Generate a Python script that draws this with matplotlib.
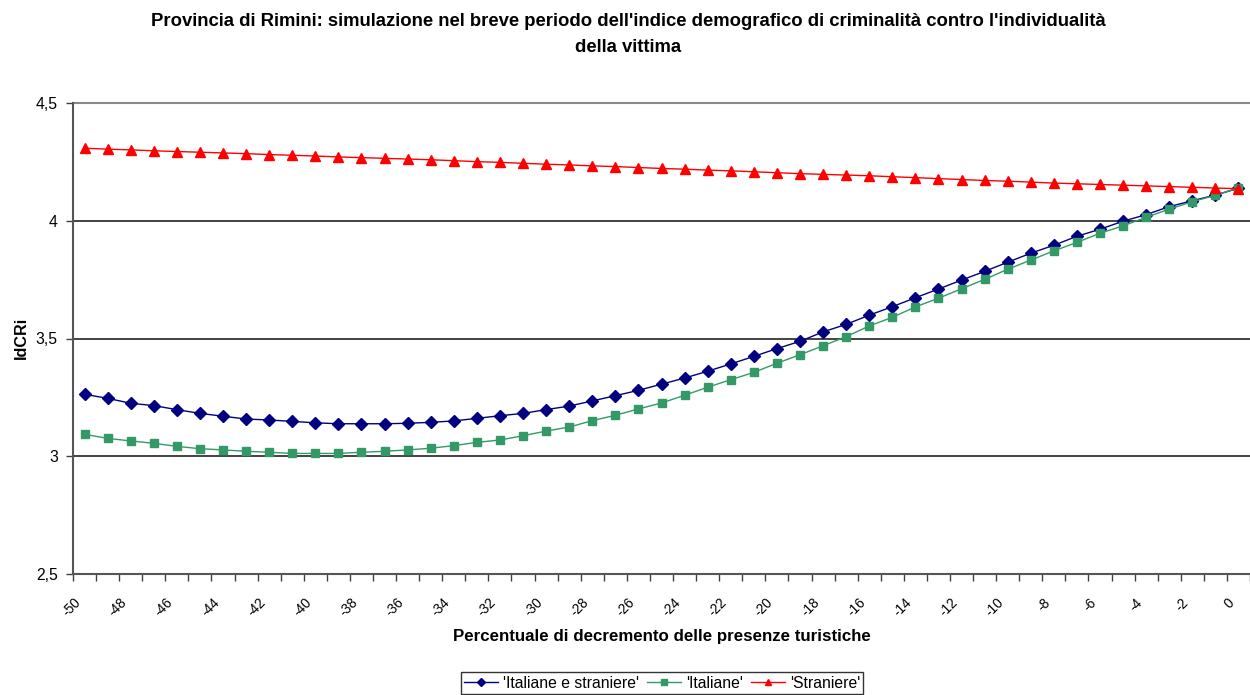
import matplotlib
matplotlib.use("Agg")
import matplotlib.pyplot as plt
from matplotlib.ticker import FixedLocator, FuncFormatter
from matplotlib.transforms import ScaledTranslation

plt.rcParams['font.family'] = ['Liberation Sans', 'DejaVu Sans']

x_values = list(range(-50, 1))

italiane_e_straniere = [
    3.263, 3.246, 3.225, 3.215, 3.198, 3.182, 3.170, 3.158, 3.154, 3.148,
    3.142, 3.138, 3.138, 3.138, 3.140, 3.144, 3.150, 3.161, 3.172, 3.182,
    3.198, 3.213, 3.235, 3.257, 3.280, 3.306, 3.332, 3.361, 3.392, 3.424,
    3.457, 3.488, 3.528, 3.560, 3.599, 3.635, 3.673, 3.710, 3.748, 3.785,
    3.824, 3.862, 3.896, 3.934, 3.964, 3.998, 4.026, 4.060, 4.085, 4.109,
    4.138,
]

italiane = [
    3.093, 3.076, 3.065, 3.055, 3.042, 3.032, 3.027, 3.021, 3.017, 3.012,
    3.012, 3.012, 3.017, 3.021, 3.027, 3.034, 3.045, 3.059, 3.069, 3.087,
    3.107, 3.124, 3.151, 3.174, 3.201, 3.226, 3.259, 3.293, 3.325, 3.356,
    3.395, 3.431, 3.469, 3.508, 3.553, 3.590, 3.634, 3.671, 3.711, 3.751,
    3.794, 3.833, 3.872, 3.908, 3.947, 3.978, 4.015, 4.049, 4.081, 4.108,
    4.140,
]

straniere = [
    4.308, 4.304, 4.301, 4.297, 4.294, 4.291, 4.288, 4.285, 4.281, 4.278,
    4.275, 4.271, 4.268, 4.265, 4.262, 4.259, 4.255, 4.251, 4.248, 4.244,
    4.240, 4.237, 4.233, 4.230, 4.226, 4.222, 4.219, 4.215, 4.212, 4.208,
    4.204, 4.200, 4.197, 4.194, 4.191, 4.187, 4.183, 4.179, 4.175, 4.171,
    4.168, 4.164, 4.160, 4.157, 4.154, 4.151, 4.148, 4.145, 4.142, 4.139,
    4.136,
]

series_labels = ["'Italiane e straniere'", "'Italiane'", "'Straniere'"]
x_tick_labels = [str(v) for v in range(-50, 1, 2)]
y_ticks = [2.5, 3.0, 3.5, 4.0, 4.5]

title_line1 = "Provincia di Rimini: simulazione nel breve periodo dell'indice demografico di criminalità contro l'individualità"
title_line2 = "della vittima"
xlabel = "Percentuale di decremento delle presenze turistiche"
ylabel = "IdCRi"

W, H = 1250, 695
fig = plt.figure(figsize=(W / 100, H / 100), dpi=100)
ax = fig.add_axes([73 / W, 1 - 574 / H, (W - 73) / W, (574 - 103) / H])

ax.plot(x_values, italiane_e_straniere, color='#000080', lw=1.0, marker='D',
        markersize=6, markerfacecolor='#000080', markeredgecolor='#000080',
        label=series_labels[0], zorder=3)
ax.plot(x_values, italiane, color='#339966', lw=1.0, marker='s',
        markersize=5.2, markerfacecolor='#339966', markeredgecolor='#339966',
        label=series_labels[1], zorder=3)
ax.plot(x_values, straniere, color='#FF0000', lw=1.0, marker='^',
        markersize=6.5, markerfacecolor='#FF0000', markeredgecolor='#FF0000',
        label=series_labels[2], zorder=3)

ax.set_xlim(-50.5, 0.5)
ax.set_ylim(2.5, 4.5)

# y axis
ax.yaxis.set_major_locator(FixedLocator(y_ticks))
ax.yaxis.set_major_formatter(FuncFormatter(lambda v, p: (f"{v:g}").replace('.', ',')))
ax.tick_params(axis='y', direction='out', length=5, width=1, color='#404040',
               labelsize=11.3, pad=6)
for yv in [3.0, 3.5, 4.0]:
    ax.axhline(yv, color='#222222', lw=1.2, zorder=1)
ax.axhline(4.5, color='#888888', lw=1.5, zorder=1, clip_on=False)

# x axis: labels at every other category, tick marks at category boundaries
ax.xaxis.set_major_locator(FixedLocator(list(range(-50, 1, 2))))
ax.set_xticklabels(x_tick_labels)
ax.xaxis.set_minor_locator(FixedLocator([v - 0.5 for v in range(-50, 2)]))
ax.tick_params(axis='x', which='major', length=0, labelsize=9.8, pad=19)
ax.tick_params(axis='x', which='minor', direction='out', length=5, width=1, color='#404040')
shift = ScaledTranslation(-0.06, 0, fig.dpi_scale_trans)
for lbl in ax.get_xticklabels():
    lbl.set_rotation(45)
    lbl.set_ha('right')
    lbl.set_va('center')
    lbl.set_rotation_mode('anchor')
    lbl.set_transform(lbl.get_transform() + shift)

for s in ['top', 'right']:
    ax.spines[s].set_visible(False)
ax.spines['left'].set_color('#555555')
ax.spines['left'].set_linewidth(1.5)
ax.spines['bottom'].set_color('#555555')
ax.spines['bottom'].set_linewidth(1.5)

fig.text(628 / W, 1 - 25.5 / H, title_line1, ha='center', va='baseline', fontsize=13.3,
         fontweight='bold')
fig.text(628 / W, 1 - 52.5 / H, title_line2, ha='center', va='baseline', fontsize=13.3,
         fontweight='bold')
fig.text(662 / W, 1 - 636 / H, xlabel, ha='center', va='center', fontsize=12.2,
         fontweight='bold')
fig.text(21 / W, 1 - 338 / H, ylabel, ha='center', va='center', fontsize=11.6,
         fontweight='bold', rotation=90)

leg = fig.legend(loc='center', bbox_to_anchor=(662 / W, 1 - 683 / H), ncol=3,
                 frameon=True, fancybox=False, fontsize=11.3, handlelength=2.2,
                 handletextpad=0.3, columnspacing=0.5, borderpad=0.2,
                 markerscale=0.75)
leg.get_frame().set_edgecolor('black')
leg.get_frame().set_linewidth(1.0)

fig.savefig('out.png', dpi=100)
